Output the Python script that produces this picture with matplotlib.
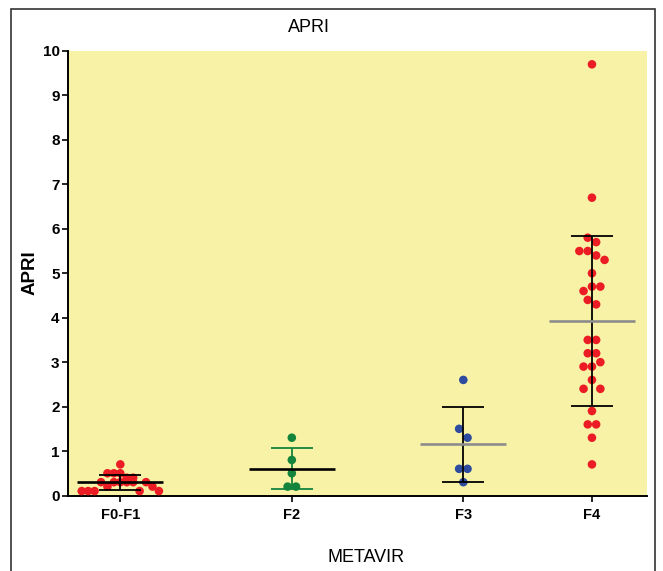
import matplotlib
matplotlib.use("Agg")
import matplotlib.pyplot as plt
from matplotlib.patches import Rectangle
import numpy as np

plt.rcParams['font.family'] = ['Liberation Sans', 'DejaVu Sans']

# METAVIR groups and APRI values (listed row by row, left to right)
groups = ['F0-F1', 'F2', 'F3', 'F4']
apri_f0f1 = [0.1, 0.1, 0.1, 0.3, 0.2, 0.3, 0.3, 0.3, 0.3, 0.1, 0.3, 0.2, 0.1,
             0.5, 0.5, 0.5, 0.4, 0.4,
             0.7]
apri_f2 = [1.3, 0.8, 0.5, 0.2, 0.2]
apri_f3 = [2.6, 1.5, 1.3, 0.6, 0.6, 0.3]
apri_f4 = [9.7, 6.7, 5.8, 5.7, 5.5, 5.5, 5.4, 5.3, 5.0, 4.6, 4.7, 4.7, 4.4, 4.3,
           3.5, 3.5, 3.2, 3.2, 2.9, 2.9, 3.0, 2.4, 2.6, 2.4, 1.9, 1.6, 1.6, 1.3, 0.7]
values = [apri_f0f1, apri_f2, apri_f3, apri_f4]

# layout / style
xpos = [0, 1, 2, 2.75]
dot_colors = ['#ec1c24', '#13843c', '#2d4b9f', '#ec1c24']
mean_colors = ['black', 'black', '#8c8c8c', '#8c8c8c']
sd_colors = ['black', '#13843c', 'black', 'black']
yellow = '#f7f2a6'


def column_offsets(vals, step=0.049, max_width=0.45, row_height=0.2):
    '''horizontal offsets like a column scatter: close values share a centred row'''
    vals = np.asarray(vals)
    order = np.argsort(vals, kind='stable')
    rows = []
    for i in order:
        if rows and vals[i] - vals[rows[-1][0]] <= row_height + 1e-9:
            rows[-1].append(i)
        else:
            rows.append([i])
    widest = max(len(r) for r in rows)
    if widest > 1:
        step = min(step, max_width / (widest - 1))
    offs = np.zeros(len(vals))
    for r in rows:
        r = sorted(r)
        for k, i in enumerate(r):
            offs[i] = (k - (len(r) - 1) / 2) * step
    return offs


fig = plt.figure(figsize=(6.63, 5.71), dpi=100)
ax = fig.add_axes([68 / 663, 1 - 495.5 / 571, (647 - 68) / 663, (495.5 - 51) / 571])
ax.set_facecolor(yellow)

for i, vals in enumerate(values):
    x0 = xpos[i]
    offs = column_offsets(vals)
    ax.scatter(x0 + offs, vals, s=38, color=dot_colors[i], edgecolors='none', zorder=3)

    m = np.mean(vals)
    sd = np.std(vals, ddof=1)
    ax.vlines(x0, m - sd, m + sd, color=sd_colors[i], lw=1.3, zorder=4)
    ax.hlines([m - sd, m + sd], x0 - 0.123, x0 + 0.123, color=sd_colors[i], lw=1.3, zorder=4)
    ax.hlines(m, x0 - 0.25, x0 + 0.25, color=mean_colors[i], lw=1.9, zorder=4)

ax.set_xlim(-0.305, 3.071)
ax.set_ylim(0, 10)
ax.set_xticks(xpos)
ax.set_xticklabels(groups, fontweight='bold', fontsize=10.5)
ax.set_yticks(range(0, 11))
ax.set_yticklabels([str(v) for v in range(0, 11)], fontweight='bold', fontsize=11)
ax.tick_params(axis='y', direction='out', length=4, width=1.2, pad=2)
ax.tick_params(axis='x', direction='out', length=4, width=1.2, pad=5)

ax.spines['top'].set_visible(False)
ax.spines['right'].set_visible(False)
ax.spines['left'].set_linewidth(1.4)
ax.spines['bottom'].set_linewidth(1.4)

fig.text(309 / 663, 1 - 27 / 571, 'APRI', ha='center', va='center', fontsize=13)
fig.text(30 / 663, 1 - 273 / 571, 'APRI', ha='center', va='center', rotation=90,
         fontsize=13.5, fontweight='bold')
fig.text(366 / 663, 1 - 558 / 571, 'METAVIR', ha='center', va='center', fontsize=13)

# thin frame round the whole figure
fig.patches.append(Rectangle((11 / 663, -0.02), (655 - 11) / 663, 1 - 9 / 571 + 0.02,
                             transform=fig.transFigure, fill=False, ec='#333333', lw=1.2))

fig.savefig('out.png', dpi=100)
